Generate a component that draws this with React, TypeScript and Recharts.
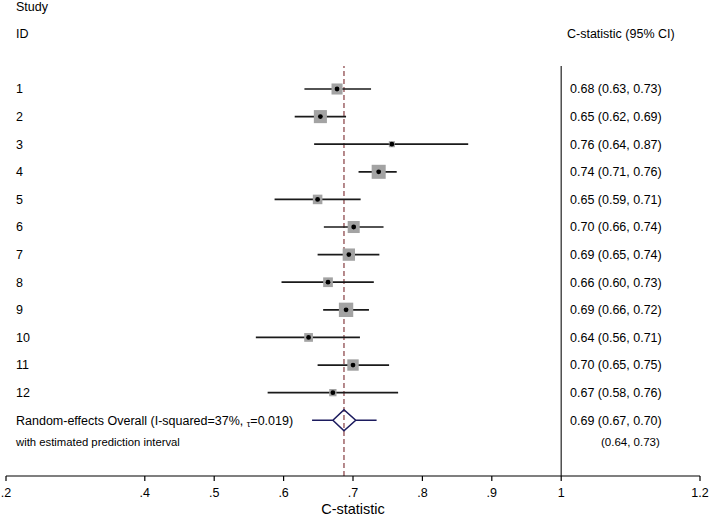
import { ComposedChart, ErrorBar, ReferenceLine, Scatter, XAxis, YAxis, ZAxis } from "recharts";

const FONT = "'Liberation Sans', Arial, sans-serif";

// study-level results
const studyIds = ["1", "2", "3", "4", "5", "6", "7", "8", "9", "10", "11", "12"];
const estimates = [0.677, 0.653, 0.756, 0.737, 0.649, 0.701, 0.694, 0.664, 0.69, 0.636, 0.7, 0.671];
const lowers = [0.63, 0.616, 0.644, 0.708, 0.587, 0.658, 0.649, 0.597, 0.657, 0.56, 0.649, 0.577];
const uppers = [0.726, 0.69, 0.866, 0.763, 0.711, 0.744, 0.738, 0.73, 0.723, 0.71, 0.752, 0.765];
const weights = [8.3, 11.6, 2.5, 13.4, 6.2, 9.8, 10.3, 6.4, 14.0, 5.2, 8.8, 3.6];
const ciLabels = [
  "0.68 (0.63, 0.73)",
  "0.65 (0.62, 0.69)",
  "0.76 (0.64, 0.87)",
  "0.74 (0.71, 0.76)",
  "0.65 (0.59, 0.71)",
  "0.70 (0.66, 0.74)",
  "0.69 (0.65, 0.74)",
  "0.66 (0.60, 0.73)",
  "0.69 (0.66, 0.72)",
  "0.64 (0.56, 0.71)",
  "0.70 (0.65, 0.75)",
  "0.67 (0.58, 0.76)",
];

// pooled result
const overallEstimate = 0.687;
const overallCi = [0.671, 0.704];
const predictionInterval = [0.641, 0.734];
const overallCiLabel = "0.69 (0.67, 0.70)";
const predictionLabel = "(0.64, 0.73)";
const overallTitle = "Random-effects Overall (I-squared=37%, ";
const tauValue = "=0.019)";
const predictionTitle = "with estimated prediction interval";

const xTicks = [0.2, 0.4, 0.5, 0.6, 0.7, 0.8, 0.9, 1, 1.2];

// row layout (rows counted from the top of the plot)
const overallRow = studyIds.length + 1;
const predictionRow = overallRow + 0.8;
const diamondHalf = 0.38;

const studyData = studyIds.map((id, i) => ({
  id,
  x: estimates[i],
  y: i + 1,
  z: weights[i],
  err: [estimates[i] - lowers[i], uppers[i] - estimates[i]],
}));

// diamond traced as one polyline, prediction interval whiskers included
const diamondData = [
  { x: predictionInterval[0], y: overallRow },
  { x: overallCi[0], y: overallRow },
  { x: overallEstimate, y: overallRow - diamondHalf },
  { x: overallCi[1], y: overallRow },
  { x: predictionInterval[1], y: overallRow },
  { x: overallCi[1], y: overallRow },
  { x: overallEstimate, y: overallRow + diamondHalf },
  { x: overallCi[0], y: overallRow },
];

const rowTicks = [...studyData.map((d) => d.y), overallRow, predictionRow];

function formatTick(v: number) {
  return v < 1 ? String(v).replace(/^0/, "") : String(v);
}

function StudySquare(props: any) {
  const { cx, cy, size, width } = props;
  const area = size ?? Math.PI * (width / 2) ** 2;
  const side = Math.sqrt(area);
  return (
    <g>
      <rect x={cx - side / 2} y={cy - side / 2} width={side} height={side} fill="#a3a3a3" />
      <circle cx={cx} cy={cy} r={2.4} fill="#000" />
    </g>
  );
}

function RowLabel(props: any) {
  const { y, payload } = props;
  const v = payload.value;
  const textProps = { fontFamily: FONT, fontSize: 12.5, fill: "#000", dy: "0.35em" };
  if (v === overallRow) {
    return (
      <g>
        <text x={16} y={y} {...textProps}>
          {overallTitle}
          <tspan fontSize={9} dy={2.5}>τ</tspan>
          <tspan dy={-2.5}>{tauValue}</tspan>
        </text>
        <text x={570} y={y} {...textProps}>{overallCiLabel}</text>
      </g>
    );
  }
  if (v === predictionRow) {
    return (
      <g>
        <text x={16} y={y} {...textProps} fontSize={11.3}>{predictionTitle}</text>
        <text x={601} y={y} {...textProps} fontSize={11.5}>{predictionLabel}</text>
      </g>
    );
  }
  const i = v - 1;
  return (
    <g>
      <text x={16} y={y} {...textProps}>{studyIds[i]}</text>
      <text x={570} y={y} {...textProps}>{ciLabels[i]}</text>
    </g>
  );
}

export default function App() {
  return (
    <div style={{ position: "absolute", left: 0, top: 0, width: 711, height: 516, background: "#fff" }}>
      <ComposedChart width={711} height={516} margin={{ top: 66, right: 11, bottom: 0, left: 6 }}>
        <XAxis
          type="number"
          dataKey="x"
          domain={[0.2, 1.2]}
          allowDataOverflow
          ticks={xTicks}
          tickFormatter={formatTick}
          height={40}
          tickSize={5}
          tickMargin={7}
          interval={0}
          axisLine={{ stroke: "#000", strokeWidth: 1.2 }}
          tickLine={{ stroke: "#000", strokeWidth: 1.2 }}
          tick={{ fontFamily: FONT, fontSize: 12.5, fill: "#000" }}
          label={{ value: "C-statistic", position: "insideBottom", offset: 2, fontSize: 14.5, fill: "#000", fontFamily: FONT }}
        />
        <XAxis
          xAxisId="top"
          orientation="top"
          type="number"
          domain={[0.2, 1.2]}
          height={0}
          tick={false}
          tickLine={false}
          stroke="#b5b5b5"
        />
        <YAxis
          type="number"
          dataKey="y"
          reversed
          domain={[0.1667, 15.02]}
          allowDataOverflow
          ticks={rowTicks}
          interval={0}
          mirror
          axisLine={false}
          tickLine={false}
          tick={<RowLabel />}
        />
        <ZAxis type="number" dataKey="z" domain={[0, 14]} range={[0, 206]} />
        <ReferenceLine x={1} stroke="#333" strokeWidth={1.3} />
        <ReferenceLine x={overallEstimate} stroke="#8f4b4f" strokeWidth={1.3} strokeDasharray="5 3" />
        <Scatter data={studyData} shape={<StudySquare />} isAnimationActive={false}>
          <ErrorBar dataKey="err" direction="x" width={0} stroke="#1a1a1a" strokeWidth={1.7} isAnimationActive={false} />
        </Scatter>
        <Scatter
          data={diamondData}
          line={{ stroke: "#1c1b5e", strokeWidth: 1.6 }}
          shape={() => <g />}
          isAnimationActive={false}
        />
      </ComposedChart>
      <svg
        width={711}
        height={60}
        style={{ position: "absolute", left: 0, top: 0, pointerEvents: "none" }}
        fontFamily={FONT}
        fontSize={12.5}
      >
        <text x={16} y={10.5}>Study</text>
        <text x={16} y={37.5}>ID</text>
        <text x={567} y={37.5}>C-statistic (95% CI)</text>
      </svg>
    </div>
  );
}
